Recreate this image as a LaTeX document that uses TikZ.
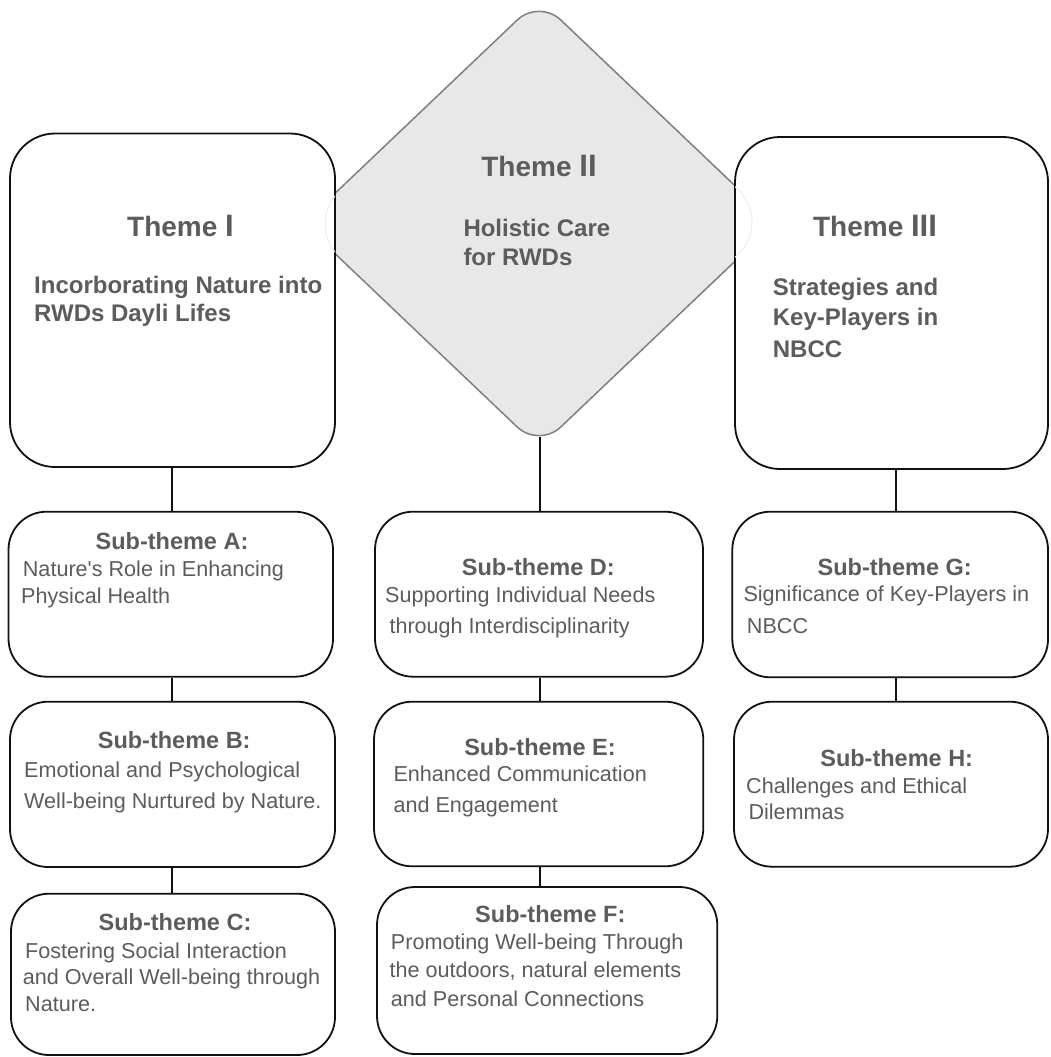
\documentclass[tikz,border=0pt]{standalone}
\usepackage{fontspec}
\setmainfont{Liberation Sans}
\usetikzlibrary{shapes.geometric}

\definecolor{inkgray}{HTML}{5C5C5C}
\definecolor{diamondfill}{HTML}{E8E8E8}
\definecolor{diamondline}{HTML}{7F7F7F}
\definecolor{boxline}{HTML}{111111}
\definecolor{ghost}{HTML}{EDEDED}

% Roman numeral after "Theme" is set a little larger
\newcommand\themenum[1]{{\fontsize{31pt}{31pt}\selectfont #1}}

\tikzset{
  roundbox/.style={draw=boxline, fill=white, line width=1.8pt, rounded corners=#1, inner sep=0pt},
  roundbox/.default=38pt,
  themetitle/.style={font=\fontsize{28pt}{30pt}\selectfont\bfseries, text=inkgray, inner sep=0pt, anchor=base},
  themesub/.style={font=\fontsize{24pt}{28pt}\selectfont\bfseries, text=inkgray, inner sep=0pt, anchor=base west},
  subhead/.style={font=\fontsize{23.5pt}{26pt}\selectfont\bfseries, text=inkgray, inner sep=0pt, anchor=base},
  bodyline/.style={font=\fontsize{21.6pt}{24pt}\selectfont, text=inkgray, inner sep=0pt, anchor=base west},
  link/.style={draw=boxline, line width=1.8pt},
}

\begin{document}
\begin{tikzpicture}[x=1pt,y=-1pt]
\useasboundingbox (0,0) rectangle (1050,1057);
\clip (0,0) rectangle (1050,1057);

% columns of the vertical connectors
\coordinate (c1) at (172,0);
\coordinate (c2) at (540,0);
\coordinate (c3) at (896,0);

% Theme II: rounded grey diamond
\node[diamond, draw=diamondline, fill=diamondfill, line width=1.5pt,
      minimum width=472pt, minimum height=449pt, inner sep=0pt,
      rounded corners=30pt] (t2) at (539,223.5) {};
\coordinate (t2tip) at (540,437);

% Theme I and Theme III boxes (they overlap the diamond's side corners)
\node[roundbox=45pt, minimum width=325pt, minimum height=333.5pt] (t1) at (172.5,300.25) {};
\node[roundbox=45pt, minimum width=313pt, minimum height=332pt] (t3) at (891.5,303) {};

% faint connection rings at the diamond's side corners
\begin{scope}
  \clip (10,133.5) rectangle (335,467);
  \draw[ghost, line width=1pt] (369,224) circle[radius=44];
\end{scope}
\begin{scope}
  \clip (735,137) rectangle (1048,469);
  \draw[ghost, line width=1pt] (707,222) circle[radius=45];
\end{scope}

% sub-theme boxes
\node[roundbox, minimum width=324.5pt, minimum height=165pt]   (a) at (170.75,594.2) {};
\node[roundbox, minimum width=325pt,   minimum height=165.3pt] (b) at (172.5,784.35) {};
\node[roundbox, minimum width=324pt,   minimum height=161.3pt] (c) at (173,974.35) {};
\node[roundbox, minimum width=328pt,   minimum height=165pt]   (d) at (539,594.2) {};
\node[roundbox, minimum width=329.3pt, minimum height=164.6pt] (e) at (538.65,784) {};
\node[roundbox, minimum width=340.3pt, minimum height=167pt]   (f) at (547.15,970.5) {};
\node[roundbox, minimum width=315.7pt, minimum height=165.6pt] (g) at (890.15,594.5) {};
\node[roundbox, minimum width=314pt,   minimum height=165pt]   (h) at (891,784.2) {};

% connectors
\draw[link] (t1.south -| c1) -- (a.north -| c1);
\draw[link] (a.south -| c1) -- (b.north -| c1);
\draw[link] (b.south -| c1) -- (c.north -| c1);
\draw[link] (t2tip) -- (d.north -| c2);
\draw[link] (d.south -| c2) -- (e.north -| c2);
\draw[link] (e.south -| c2) -- (f.north -| c2);
\draw[link] (t3.south -| c3) -- (g.north -| c3);
\draw[link] (g.south -| c3) -- (h.north -| c3);

% Theme I
\node[themetitle] (t1title) at (180.5,236.7) {Theme \themenum{I}};
\node[themesub] (t1s1) at (34,293.3) {Incorborating Nature into};
\node[themesub] (t1s2) at (34,321.7) {RWDs Dayli Lifes};

% Theme II
\node[themetitle] (t2title) at (539,176.7) {Theme \themenum{II}};
\node[themesub] (t2s1) at (463.3,236.7) {Holistic Care};
\node[themesub] (t2s2) at (463.3,265) {for RWDs};

% Theme III
\node[themetitle] (t3title) at (875,236.7) {Theme \themenum{III}};
\node[themesub] (t3s1) at (772.7,295) {Strategies and};
\node[themesub] (t3s2) at (772.7,325) {Key-Players in};
\node[themesub] (t3s3) at (772.7,357.3) {NBCC};

% Sub-theme A
\node[subhead] (ah) at (172,549.3) {Sub-theme A:};
\node[bodyline] (a1) at (22.7,576.7) {Nature\textquotesingle s Role in Enhancing};
\node[bodyline] (a2) at (21,603.3) {Physical Health};

% Sub-theme B
\node[subhead] (bh) at (174.2,748.3) {Sub-theme B:};
\node[bodyline] (b1) at (24,777) {Emotional and Psychological};
\node[bodyline] (b2) at (24,808.7) {Well-being Nurtured by Nature.};

% Sub-theme C
\node[subhead] (ch) at (175,930.3) {Sub-theme C:};
\node[bodyline] (c1l) at (25,958) {Fostering Social Interaction};
\node[bodyline] (c2l) at (22.7,984.7) {and Overall Well-being through};
\node[bodyline] (c3l) at (25,1011) {Nature.};

% Sub-theme D
\node[subhead] (dh) at (538.3,575) {Sub-theme D:};
\node[bodyline] (d1) at (385,602.7) {Supporting Individual Needs};
\node[bodyline] (d2) at (389.3,633.3) {through Interdisciplinarity};

% Sub-theme E
\node[subhead] (eh) at (540,755) {Sub-theme E:};
\node[bodyline] (e1) at (393.3,781.7) {Enhanced Communication};
\node[bodyline] (e2) at (393.3,812) {and Engagement};

% Sub-theme F
\node[subhead] (fh) at (550.3,922) {Sub-theme F:};
\node[bodyline] (f1) at (390.7,949.7) {Promoting Well-being Through};
\node[bodyline] (f2) at (389.3,977) {the outdoors, natural elements};
\node[bodyline] (f3) at (390.7,1006.3) {and Personal Connections};

% Sub-theme G
\node[subhead] (gh) at (894.7,575) {Sub-theme G:};
\node[bodyline] (g1) at (743.3,601.7) {Significance of Key-Players in};
\node[bodyline] (g2) at (746.7,633.3) {NBCC};

% Sub-theme H
\node[subhead] (hh) at (896.7,766) {Sub-theme H:};
\node[bodyline] (h1) at (746,793.3) {Challenges and Ethical};
\node[bodyline] (h2) at (748.3,819.3) {Dilemmas};
\end{tikzpicture}
\end{document}
